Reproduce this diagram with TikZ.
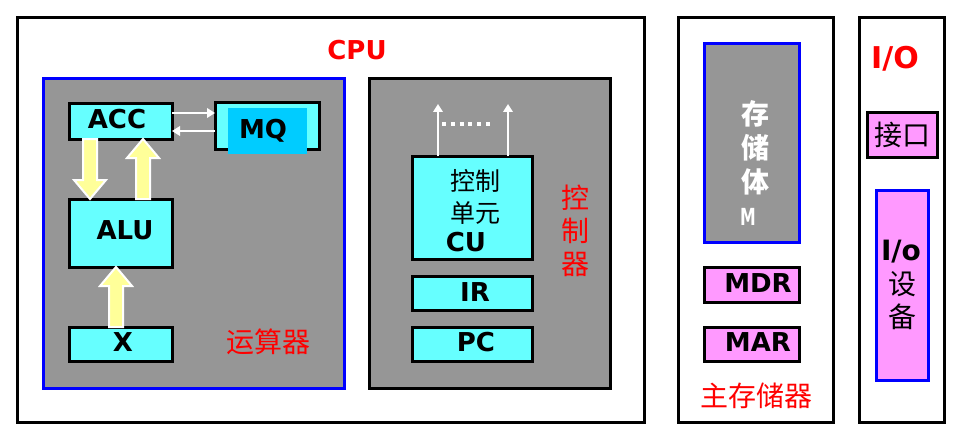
\documentclass[tikz,border=0pt]{standalone}
\usepackage{fontspec}
\setmainfont{DejaVu Sans}
\newfontfamily\cjk{Noto Sans CJK SC}
\usetikzlibrary{calc,arrows.meta}
\definecolor{boxgray}{RGB}{150,150,150}
\definecolor{regcyan}{RGB}{102,255,255}
\definecolor{mqcyan}{RGB}{0,204,255}
\definecolor{regpink}{RGB}{255,153,255}
\definecolor{arrowyellow}{RGB}{255,255,153}
\definecolor{labred}{RGB}{255,0,0}
\newcommand{\fatarrow}[3]{%
  \filldraw[fatarrowstyle] let \p1=(#2), \p2=(#3), \n1={sign(\y2-\y1)} in
    (#1pt-7pt,\y1) -- (#1pt-7pt,{\y2-\n1*19pt}) -- (#1pt-16pt,{\y2-\n1*19pt})
    -- (#1pt,\y2) -- (#1pt+16pt,{\y2-\n1*19pt}) -- (#1pt+7pt,{\y2-\n1*19pt})
    -- (#1pt+7pt,\y1) -- cycle;}
\begin{document}
\begin{tikzpicture}[x=1pt,y=-1pt,
  outerbox/.style={draw=black,line width=3pt,fill=white,inner sep=0,outer sep=0},
  unitbox/.style={line width=3pt,fill=boxgray,inner sep=0,outer sep=0},
  reg/.style={draw=black,line width=3pt,fill=regcyan,inner sep=0,outer sep=0},
  pinkreg/.style={line width=3pt,fill=regpink,inner sep=0,outer sep=0},
  lab/.style={inner sep=0,font=\fontsize{26}{28}\selectfont\bfseries},
  redlab/.style={inner sep=0,text=labred,font=\fontsize{26}{28}\selectfont\bfseries},
  cjklab/.style={inner sep=0,font=\fontsize{28}{30}\selectfont\cjk},
  redcjk/.style={inner sep=0,text=labred,font=\fontsize{28}{30}\selectfont\cjk},
  fatarrowstyle/.style={draw=white,line width=2pt,fill=arrowyellow,line join=miter},
  thinarrow/.style={draw=white,line width=2.8pt,-{Triangle[length=8pt,width=9.5pt]}},
]
\useasboundingbox (0,0) rectangle (962,436);
\fill[white] (0,0) rectangle (962,436);

% outer boxes
\node[outerbox,minimum width=627pt,minimum height=404pt] (cpu) at (330.5,220) {};
\node[outerbox,minimum width=155pt,minimum height=404pt] (mem) at (755.5,220) {};
\node[outerbox,minimum width=85pt,minimum height=404pt] (io) at (901.5,220) {};
\node[redlab] (cpulab) at (357,50) {CPU};

% arithmetic unit
\node[unitbox,draw=blue,minimum width=301pt,minimum height=309pt] (alubox) at (193.5,233.5) {};
\node[reg,minimum width=103pt,minimum height=35pt] (acc) at (120.5,121.5) {};
\node[lab] (acclab) at (117,119) {ACC};
\node[reg,minimum width=104pt,minimum height=46pt] (mqo) at (267,126) {};
\node[fill=mqcyan,inner sep=0,outer sep=0,minimum width=79pt,minimum height=46pt] (mqi) at (267.5,131) {};
\node[lab] (mqlab) at (263,131) {MQ};
\node[reg,minimum width=103pt,minimum height=68pt] (alu) at (120.5,233) {};
\node[lab] (alulab) at (125,230) {ALU};
\node[reg,minimum width=103pt,minimum height=34pt] (x) at (120.5,344) {};
\node[lab] (xlab) at (123,342) {X};
\node[redcjk] (arithlab) at (268,342) {运算器};

\draw[thinarrow] (acc.east |- 0,113) -- (mqo.west |- 0,113);
\draw[thinarrow] (mqo.west |- 0,131) -- (acc.east |- 0,131);

\fatarrow{90}{acc.south}{alu.north}
\fatarrow{143}{alu.north}{acc.south}
\fatarrow{116}{x.north}{alu.south}

% control unit
\node[unitbox,draw=black,minimum width=241pt,minimum height=309pt] (ctrl) at (489.5,233.5) {};
\node[reg,minimum width=120pt,minimum height=103pt] (cu) at (472,207.5) {};
\node[inner sep=0,font=\fontsize{25}{32}\selectfont\cjk,align=center] (culab) at (475,197) {控制\\单元};
\node[lab] (cutext) at (466,242) {CU};
\node[reg,minimum width=120pt,minimum height=34pt] (ir) at (472,293) {};
\node[lab] (irlab) at (475,292) {IR};
\node[reg,minimum width=120pt,minimum height=34pt] (pc) at (472,344) {};
\node[lab] (pclab) at (476,342) {PC};
\node[redcjk,align=center,font=\fontsize{28}{33}\selectfont\cjk] (ctrllab) at (575,231) {控\\制\\器};
\coordinate (cuoutA) at (438,104);
\coordinate (cuoutB) at (508,104);
\draw[thinarrow] (cu.north -| cuoutA) -- (cuoutA);
\draw[thinarrow] (cu.north -| cuoutB) -- (cuoutB);
\coordinate (dotsA) at (442,124);
\coordinate (dotsB) at (490,124);
\draw[white,line width=4pt,dash pattern=on 4pt off 4.8pt] (dotsA) -- (dotsB);

% main memory
\node[unitbox,draw=blue,minimum width=95pt,minimum height=198pt] (store) at (751.5,143) {};
\node[inner sep=0,text=white,align=center,font=\fontsize{28}{34}\selectfont\cjk\bfseries] (storelab) at (755,148) {存\\储\\体};
\node[inner sep=0,text=white,font=\fontsize{21}{22}\selectfont\bfseries,xscale=0.75,yscale=1.12] (mlab) at (748,217) {M};
\node[pinkreg,draw=black,minimum width=95pt,minimum height=35pt] (mdr) at (751.5,284.5) {};
\node[lab] (mdrlab) at (758,283) {MDR};
\node[pinkreg,draw=black,minimum width=95pt,minimum height=34pt] (mar) at (751.5,344) {};
\node[lab] (marlab) at (758,342) {MAR};
\node[redcjk] (memlab) at (756,396) {主存储器};

% I/O
\node[redlab,font=\fontsize{30}{32}\selectfont\bfseries] (iolab) at (895,59) {I/O};
\node[pinkreg,draw=black,minimum width=70pt,minimum height=44pt] (intf) at (902,135) {};
\node[cjklab] (intflab) at (902,135) {接口};
\node[pinkreg,draw=blue,minimum width=52pt,minimum height=190pt] (dev) at (902,285) {};
\node[lab,font=\fontsize{28}{30}\selectfont\bfseries] (devlab) at (901,252) {I/o};
\node[cjklab,align=center,font=\fontsize{28}{33}\selectfont\cjk] (devcjk) at (902,301) {设\\备};
\end{tikzpicture}
\end{document}
